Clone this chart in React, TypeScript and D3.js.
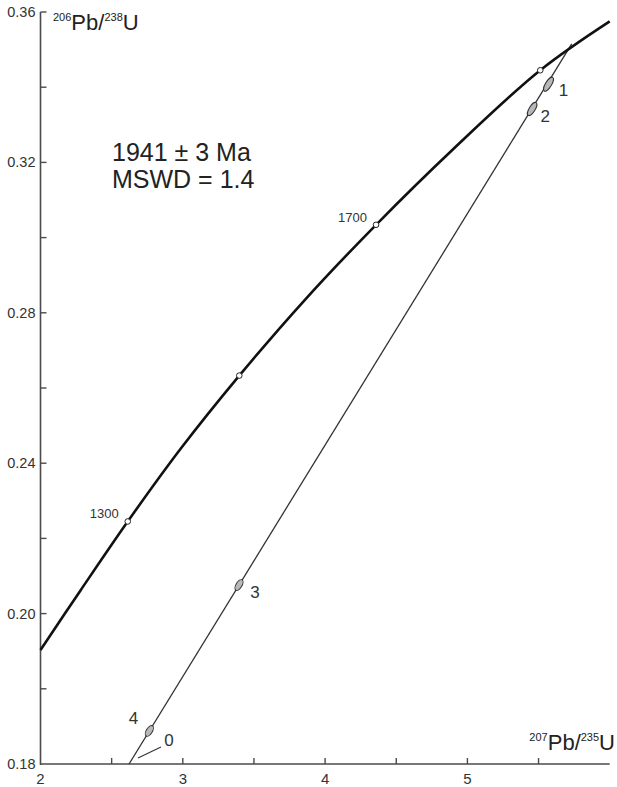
import React from "react";
import * as d3 from "d3";

// Concordia curve as drawn (age in Ma, 207Pb/235U, 206Pb/238U)
const concordiaAges = [1115, 1200, 1300, 1400, 1500, 1600, 1700, 1800, 1900, 1976];
const concordiaPb207U235 = [2.0, 2.28, 2.613, 2.99, 3.397, 3.852, 4.358, 4.905, 5.512, 6.0];
const concordiaPb206U238 = [0.1903, 0.2061, 0.2245, 0.2441, 0.2633, 0.2832, 0.3034, 0.3237, 0.3445, 0.3575];

// Age markers on concordia
const markerAges = [1300, 1500, 1700, 1900];
const markerLabels = ["1300", "", "1700", ""];

// Samples (error ellipses)
const sampleNames = ["1", "2", "3", "4"];
const samplePb207U235 = [5.57, 5.455, 3.395, 2.765];
const samplePb206U238 = [0.3408, 0.3342, 0.2076, 0.1688];

// Sample 0 (marked with a leader only)
const zeroName = "0";
const zeroPb207U235 = 2.685;
const zeroPb206U238 = 0.1616;

// Discordia line ends
const discordiaPb207U235 = [2.622, 5.733];
const discordiaPb206U238 = [0.16, 0.3515];

// Axis ticks
const xTicks = [2, 2.5, 3, 3.5, 4, 4.5, 5, 5.5];
const xTickLabels = ["2", "", "3", "", "4", "", "5", ""];
const yTicks = [0.16, 0.18, 0.2, 0.22, 0.24, 0.26, 0.28, 0.3, 0.32, 0.34, 0.36];
const yTickLabels = ["0.18", "", "0.20", "", "0.24", "", "0.28", "", "0.32", "", "0.36"];

const ageText = "1941 ± 3 Ma";
const mswdText = "MSWD = 1.4";

const W = 617;
const H = 787;
const FONT = "'Liberation Sans', Arial, sans-serif";

export default function App() {
  const x = d3.scaleLinear().domain([2, 6]).range([40.5, 609.7]);
  const y = d3.scaleLinear().domain([0.16, 0.36]).range([764, 12]);

  const concPts: [number, number][] = concordiaPb207U235.map((v, i) => [x(v), y(concordiaPb206U238[i])]);
  const concPath = d3.line().curve(d3.curveCatmullRom.alpha(0.5))(concPts) || "";

  const markerPts = markerAges.map((a) => {
    const i = concordiaAges.indexOf(a);
    return [x(concordiaPb207U235[i]), y(concordiaPb206U238[i])];
  });

  const dx0 = x(discordiaPb207U235[0]);
  const dy0 = y(discordiaPb206U238[0]);
  const dx1 = x(discordiaPb207U235[1]);
  const dy1 = y(discordiaPb206U238[1]);
  const angle = (Math.atan2(dy1 - dy0, dx1 - dx0) * 180) / Math.PI;

  const ellipseR = [
    [8, 3],
    [7.5, 3],
    [6, 3],
    [6, 3],
  ];
  const labelOff = [
    [15, 6],
    [13, 7],
    [16, 7],
    [-16, -12],
  ];

  const axisColor = "#4a4a4a";
  const textColor = "#333";

  const zx = x(zeroPb207U235);
  const zy = y(zeroPb206U238);

  return (
    <svg
      width={W}
      height={H}
      style={{ position: "absolute", left: 0, top: 0, background: "#fff" }}
      fontFamily={FONT}
    >
      <rect x={0} y={0} width={W} height={H} fill="#fff" />
      {/* axes */}
      <line x1={x(2)} x2={x(2)} y1={y(0.36)} y2={y(0.16) + 1} stroke={axisColor} strokeWidth={1.6} />
      <line x1={x(2)} x2={x(6)} y1={y(0.16)} y2={y(0.16)} stroke={axisColor} strokeWidth={1.6} />
      {yTicks.map((t, i) => (
        <g key={"yt" + i}>
          {t > 0.16 && (
            <line x1={x(2)} x2={x(2) + 6} y1={y(t)} y2={y(t)} stroke={axisColor} strokeWidth={1.4} />
          )}
          {yTickLabels[i] && (
            <text
              x={x(2) - 5}
              y={y(t)}
              textAnchor="end"
              dominantBaseline="central"
              fontSize={14.5}
              fill={textColor}
            >
              {yTickLabels[i]}
            </text>
          )}
        </g>
      ))}
      {xTicks.map((t, i) => (
        <g key={"xt" + i}>
          {t > 2 && (
            <line x1={x(t)} x2={x(t)} y1={y(0.16)} y2={y(0.16) - 6} stroke={axisColor} strokeWidth={1.4} />
          )}
          {xTickLabels[i] && (
            <text x={x(t)} y={y(0.16) + 20} textAnchor="middle" fontSize={15} fill={textColor}>
              {xTickLabels[i]}
            </text>
          )}
        </g>
      ))}

      {/* axis titles */}
      <text x={53} y={30} fontSize={22} fill="#222">
        <tspan fontSize={11} dy={-9}>206</tspan>
        <tspan dy={9}>Pb/</tspan>
        <tspan fontSize={11} dy={-9}>238</tspan>
        <tspan dy={9}>U</tspan>
      </text>
      <text x={615} y={750} fontSize={22} fill="#222" textAnchor="end">
        <tspan fontSize={11} dy={-9}>207</tspan>
        <tspan dy={9}>Pb/</tspan>
        <tspan fontSize={11} dy={-9}>235</tspan>
        <tspan dy={9}>U</tspan>
      </text>

      {/* annotation */}
      <text x={112} y={161} fontSize={25} fill="#222">{ageText}</text>
      <text x={112} y={188} fontSize={25} fill="#222">{mswdText}</text>

      {/* discordia */}
      <line x1={dx0} y1={dy0} x2={dx1} y2={dy1} stroke="#333" strokeWidth={1.3} />

      {/* concordia */}
      <path d={concPath} fill="none" stroke="#111" strokeWidth={2.6} />

      {markerPts.map((p, i) => (
        <g key={"m" + i}>
          <circle cx={p[0]} cy={p[1]} r={2.8} fill="#fff" stroke="#222" strokeWidth={1} />
          {markerLabels[i] && (
            <text x={p[0] - 9} y={p[1] - 3} textAnchor="end" fontSize={13} fill={textColor}>
              {markerLabels[i]}
            </text>
          )}
        </g>
      ))}

      {/* samples */}
      {sampleNames.map((n, i) => {
        const cx = x(samplePb207U235[i]);
        const cy = y(samplePb206U238[i]);
        return (
          <g key={"s" + i}>
            <ellipse
              cx={cx}
              cy={cy}
              rx={ellipseR[i][0]}
              ry={ellipseR[i][1]}
              transform={`rotate(${angle} ${cx} ${cy})`}
              fill="#b8b8b8"
              stroke="#333"
              strokeWidth={1}
            />
            <text
              x={cx + labelOff[i][0]}
              y={cy + labelOff[i][1]}
              textAnchor="middle"
              dominantBaseline="central"
              fontSize={17}
              fill={textColor}
            >
              {n}
            </text>
          </g>
        );
      })}

      {/* sample 0 leader */}
      <line x1={zx} y1={zy} x2={zx + 23} y2={zy - 11} stroke="#333" strokeWidth={1.1} />
      <text x={zx + 31} y={zy - 17} textAnchor="middle" dominantBaseline="central" fontSize={17} fill={textColor}>
        {zeroName}
      </text>
    </svg>
  );
}
